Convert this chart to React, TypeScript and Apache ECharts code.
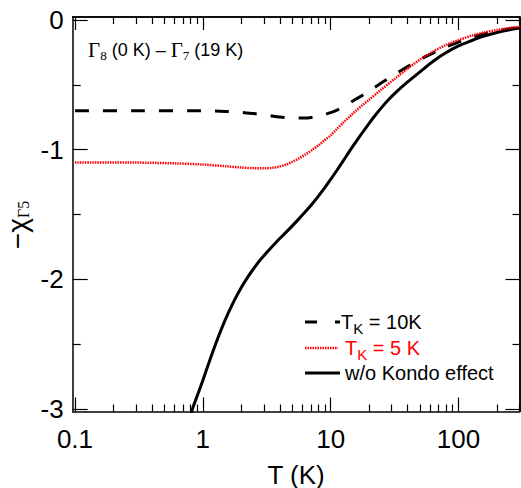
import React, { useEffect, useRef } from "react";
import * as echarts from "echarts";

// ---- data (T in K, value of -chi_Γ5) ----
const dashedT = [0.1, 0.3, 0.8, 1.5, 2.0, 2.5, 3.2, 4.0, 5.0, 6.3, 7.1, 8.0, 8.9, 10, 11.2, 12.6, 14.1, 15.8, 17.8, 20, 25, 31.6, 40, 50, 63, 79, 100, 126, 158, 200, 251, 300];
const dashedChi = [-0.7, -0.7, -0.7, -0.705, -0.712, -0.722, -0.735, -0.748, -0.755, -0.757, -0.752, -0.743, -0.73, -0.715, -0.695, -0.67, -0.64, -0.61, -0.58, -0.548, -0.485, -0.42, -0.36, -0.305, -0.255, -0.21, -0.17, -0.135, -0.107, -0.085, -0.068, -0.058];

const dottedT = [0.1, 0.3, 0.6, 1.0, 1.5, 2.0, 2.5, 3.0, 3.5, 4.0, 4.5, 5.0, 5.6, 6.3, 7.1, 8.0, 8.9, 10, 11.2, 12.6, 14.1, 15.8, 17.8, 20, 25, 31.6, 40, 50, 63, 79, 100, 126, 158, 200, 251, 300];
const dottedChi = [-1.1, -1.1, -1.106, -1.115, -1.128, -1.138, -1.143, -1.144, -1.14, -1.13, -1.115, -1.095, -1.07, -1.04, -1.005, -0.968, -0.93, -0.89, -0.84, -0.79, -0.745, -0.7, -0.655, -0.615, -0.535, -0.455, -0.375, -0.305, -0.245, -0.195, -0.155, -0.122, -0.097, -0.077, -0.062, -0.052];

const solidT = [0.81, 0.83, 0.9, 1.0, 1.12, 1.26, 1.41, 1.58, 1.78, 2.0, 2.24, 2.51, 2.82, 3.16, 3.55, 3.98, 4.47, 5.01, 5.62, 6.31, 7.08, 7.94, 8.91, 10, 11.2, 12.6, 14.1, 15.8, 17.8, 20, 22.4, 25.1, 28.2, 31.6, 39.8, 50, 63, 79, 100, 126, 158, 200, 251, 300];
const solidChi = [-3.05, -3.0, -2.905, -2.78, -2.64, -2.5, -2.375, -2.262, -2.155, -2.063, -1.985, -1.915, -1.85, -1.794, -1.74, -1.688, -1.638, -1.588, -1.536, -1.482, -1.425, -1.364, -1.299, -1.23, -1.159, -1.083, -1.01, -0.939, -0.866, -0.797, -0.733, -0.674, -0.618, -0.568, -0.48, -0.4, -0.32, -0.255, -0.2, -0.16, -0.125, -0.097, -0.075, -0.062];

const xMajorT = [0.1, 1, 10, 100];
const xTickLabels = ["0.1", "1", "10", "100"];
const xMinorT = [0.2, 0.3, 0.4, 0.5, 0.6, 0.7, 0.8, 0.9, 2, 3, 4, 5, 6, 7, 8, 9, 20, 30, 40, 50, 60, 70, 80, 90, 200, 300];
const yMajor = [0, -1, -2, -3];
const yTickLabels = ["0", "-1", "-2", "-3"];
const yMinor = [-0.5, -1.5, -2.5];

const X_MIN_T = 0.096;
const X_MAX_T = 300;
const Y_MIN = -3.02;
const Y_MAX = 0.023;

const SANS = "'Liberation Sans', Arial, Helvetica, sans-serif";
const SERIF = "'Liberation Serif', 'DejaVu Serif', serif";

const lg = (v: number) => Math.log10(v);
const toPts = (ts: number[], vs: number[]) => ts.map((t, i) => [lg(t), vs[i]]);

export default function App() {
  const ref = useRef<HTMLDivElement>(null);
  useEffect(() => {
    if (!ref.current) return;
    const chart = echarts.init(ref.current, undefined, { renderer: "svg" });
    const axisColor = "#000";
    const xBase = (position: "top" | "bottom", values: number[], len: number, labels: boolean) => ({
      type: "value" as const,
      position,
      min: lg(X_MIN_T),
      max: lg(X_MAX_T),
      axisLine: { show: labels || position === "top", onZero: false, lineStyle: { color: axisColor, width: 1.5 } },
      splitLine: { show: false },
      axisTick: {
        show: true,
        inside: true,
        length: len,
        customValues: values.map(lg),
        lineStyle: { color: axisColor, width: 1.2 },
      },
      axisLabel: labels
        ? {
            show: true,
            customValues: xMajorT.map(lg),
            formatter: (v: number) => {
              const i = xMajorT.findIndex((t) => Math.abs(lg(t) - v) < 1e-6);
              return i >= 0 ? xTickLabels[i] : "";
            },
            color: "#000",
            fontSize: 26,
            fontFamily: SANS,
            margin: 14,
          }
        : { show: false },
    });
    const yBase = (position: "left" | "right", values: number[], len: number, labels: boolean) => ({
      type: "value" as const,
      position,
      min: Y_MIN,
      max: Y_MAX,
      axisLine: { show: labels || position === "right", onZero: false, lineStyle: { color: axisColor, width: 1.5 } },
      splitLine: { show: false },
      axisTick: {
        show: true,
        inside: true,
        length: len,
        customValues: values,
        lineStyle: { color: axisColor, width: 1.2 },
      },
      axisLabel: labels
        ? {
            show: true,
            customValues: yMajor,
            formatter: (v: number) => {
              const i = yMajor.findIndex((t) => Math.abs(t - v) < 1e-6);
              return i >= 0 ? yTickLabels[i] : "";
            },
            color: "#000",
            fontSize: 26,
            fontFamily: SANS,
            margin: 9,
          }
        : { show: false },
    });

    const xAxes = [
      xBase("bottom", xMajorT, 14, true),
      xBase("bottom", xMinorT, 7, false),
      xBase("top", xMajorT, 13, false),
      xBase("top", xMinorT, 7, false),
    ];
    (xAxes[0] as any).name = "T (K)";
    (xAxes[0] as any).nameLocation = "middle";
    (xAxes[0] as any).nameGap = 50;
    (xAxes[0] as any).nameTextStyle = { color: "#000", fontSize: 26, fontFamily: SANS };

    const yAxes = [
      yBase("left", yMajor, 15, true),
      yBase("left", yMinor, 8, false),
      yBase("right", yMajor, 14, false),
      yBase("right", yMinor, 7, false),
    ];

    const legendRows = [
      { y: 322, text: "{t|T}{k|K}{t| = 10K}", color: "#000", textX: 341 },
      { y: 348, text: "{t|T}{k|K}{t| = 5 K}", color: "#ff0000", textX: 345 },
      { y: 373, text: "{t|w/o Kondo effect}", color: "#000", textX: 345 },
    ];
    const richFor = (color: string) => ({
      t: { fontSize: 20, fontFamily: SANS, fill: color, color },
      k: { fontSize: 15, fontFamily: SANS, fill: color, color, padding: [12, 0, 0, 0] },
    });

    const lineSeries = (name: string, ts: number[], vs: number[], lineStyle: any) => ({
      name,
      type: "line",
      data: toPts(ts, vs),
      smooth: 0.3,
      showSymbol: false,
      clip: true,
      lineStyle,
    });

    chart.setOption({
      animation: false,
      backgroundColor: "#fff",
      grid: { left: 72.7, right: 1.5, top: 17, bottom: 76.5, containLabel: false, outerBoundsMode: "none" },
      xAxis: xAxes,
      yAxis: yAxes,
      series: [
        lineSeries("w/o Kondo effect", solidT, solidChi, { color: "#000", width: 3 }),
        lineSeries("TK = 10K", dashedT, dashedChi, { color: "#000", width: 3, type: [14, 14] }),
        lineSeries("TK = 5 K", dottedT, dottedChi, { color: "#ff0000", width: 2.5, type: [1.5, 1] }),
      ],
      graphic: [
        {
          type: "text",
          x: 88,
          y: 50,
          style: {
            text: "{g|Γ}{s|8}{n| (0 K) – }{g|Γ}{s|7}{n| (19 K)}",
            verticalAlign: "middle",
            align: "left",
            rich: {
              g: { fontSize: 21, fontFamily: SERIF, fill: "#000" },
              s: { fontSize: 13, fontFamily: SERIF, fill: "#000", padding: [10, 0, 0, 0] },
              n: { fontSize: 18, fontFamily: SANS, fill: "#000" },
            },
          },
        },
        {
          type: "text",
          x: 17,
          y: 225,
          rotation: Math.PI / 2,
          style: {
            text: "{m|−χ}{s|Γ5}",
            align: "center",
            verticalAlign: "middle",
            rich: {
              m: { fontSize: 28, fontFamily: SANS, fill: "#000" },
              s: { fontSize: 16, fontFamily: SERIF, fill: "#000", padding: [12, 0, 0, 0] },
            },
          },
        },
        // legend symbols
        { type: "line", shape: { x1: 305, y1: 322, x2: 340, y2: 322 }, style: { stroke: "#000", lineWidth: 3, lineDash: [12, 18] } },
        { type: "line", shape: { x1: 305, y1: 348, x2: 338, y2: 348 }, style: { stroke: "#ff0000", lineWidth: 2.5, lineDash: [1.5, 1] } },
        { type: "line", shape: { x1: 305, y1: 373, x2: 340, y2: 373 }, style: { stroke: "#000", lineWidth: 3 } },
        ...legendRows.map((r) => ({
          type: "text",
          x: r.textX,
          y: r.y,
          style: {
            text: r.text,
            align: "left",
            verticalAlign: "middle",
            rich: richFor(r.color),
          },
        })),
      ],
    });
    return () => chart.dispose();
  }, []);
  return <div ref={ref} style={{ position: "fixed", left: 0, top: 0, width: 521, height: 488 }} />;
}
